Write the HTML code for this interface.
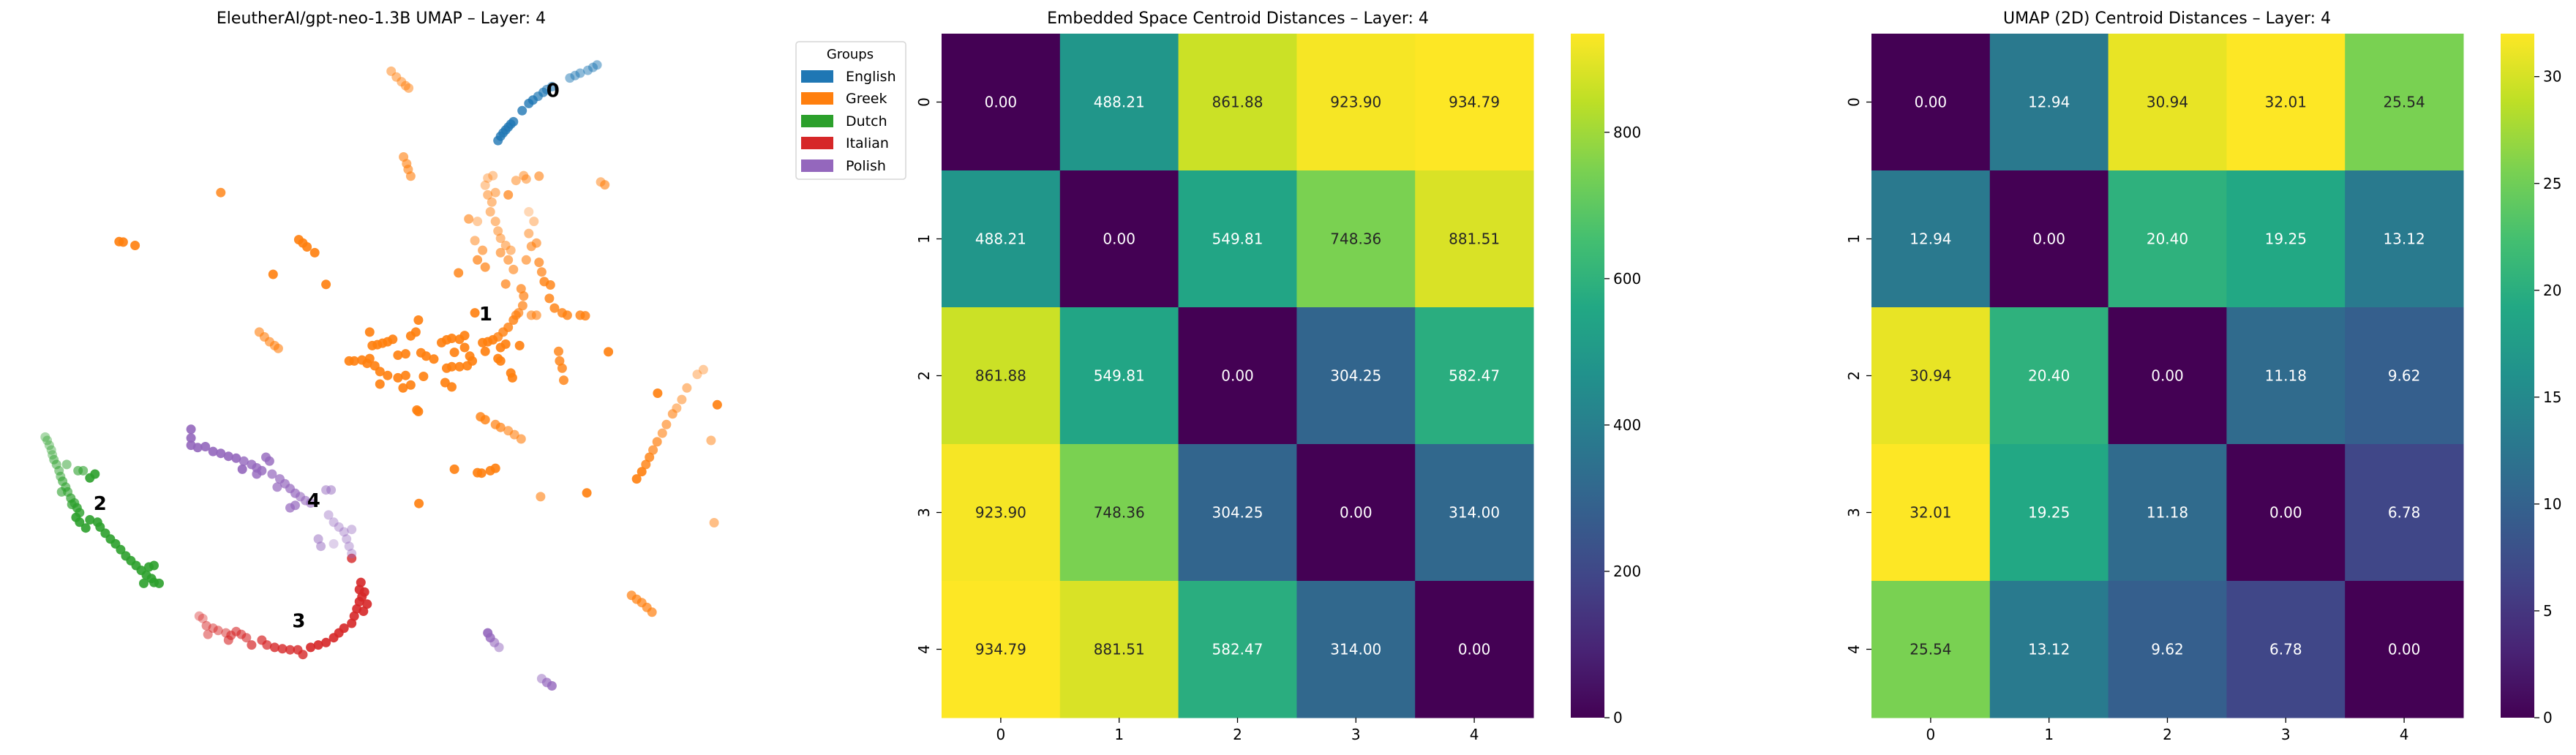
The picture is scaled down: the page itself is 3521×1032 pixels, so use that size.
<!DOCTYPE html>
<html><head><meta charset="utf-8"><style>
html,body{margin:0;padding:0;background:#fff;}
svg{display:block;font-family:"DejaVu Sans","Liberation Sans",sans-serif;}
</style></head><body>
<svg id="fig" width="3521" height="1032" viewBox="0 0 3521 1032" xmlns="http://www.w3.org/2000/svg">
<rect width="3521" height="1032" fill="#fff"/>
<g id="scatter">
<text x="521" y="32" font-size="22" text-anchor="middle">EleutherAI/gpt-neo-1.3B UMAP – Layer: 4</text>
</g>
<g id="legend">
<rect x="1088" y="57" width="150" height="188" rx="4" fill="#fff" stroke="#d6d6d6" stroke-width="1.5"/>
<text x="1162" y="80" font-size="18" text-anchor="middle">Groups</text>
<rect x="1095" y="96" width="44" height="17" fill="#1f77b4"/>
<text x="1156" y="111" font-size="19">English</text>
<rect x="1095" y="126" width="44" height="17" fill="#ff7f0e"/>
<text x="1156" y="141" font-size="19">Greek</text>
<rect x="1095" y="157" width="44" height="17" fill="#2ca02c"/>
<text x="1156" y="172" font-size="19">Dutch</text>
<rect x="1095" y="187" width="44" height="17" fill="#d62728"/>
<text x="1156" y="202" font-size="19">Italian</text>
<rect x="1095" y="218" width="44" height="17" fill="#9467bd"/>
<text x="1156" y="233" font-size="19">Polish</text>
</g>
<g id="hm1">
<text x="1692" y="32" font-size="22" text-anchor="middle">Embedded Space Centroid Distances – Layer: 4</text>
</g>
<g id="hm2">
<text x="2962" y="32" font-size="22" text-anchor="middle">UMAP (2D) Centroid Distances – Layer: 4</text>
</g>
</svg>
<script>
// ---------- data ----------
const groupNames = ["English","Greek","Dutch","Italian","Polish"];
const groupColors = ["#1f77b4","#ff7f0e","#2ca02c","#d62728","#9467bd"];
// UMAP coordinates (arbitrary units), [x, y, alpha]
const englishPts = [[970,292,.8],[975,283,.8],[980,276,.8],[985,270,.8],[990,264,.8],[995,258,.8],[1000,253,.8],[1017,230,.8],[1030,215,.8],[1038,208,.8],[1048,200,.7],[1058,192,.7],[1065,186,.6],[1075,180,.6],[1110,162,.5],[1120,157,.5],[1130,152,.5],[1145,146,.5],[1155,140,.5],[1163,135,.5]];
const greekPts = [[762,148,.5],[772,160,.5],[782,170,.5],[790,178,.5],[796,183,.5],[786,326,.6],[792,340,.6],[795,352,.6],[800,366,.6],[430,400,.8],[232,502,.9],[240,503,.9],[263,510,.9],[582,498,.9],[590,505,.9],[598,513,.9],[613,525,.9],[532,570,.9],[635,591,.9],[505,690,.6],[515,700,.6],[525,710,.6],[535,718,.6],[542,724,.6],
[680,750,.9],[690,750,.9],[720,690,.9],[725,718,.9],[735,716,.9],[745,713,.9],[755,710,.9],[765,705,.9],[775,738,.9],[790,735,.9],[800,698,.9],[810,690,.9],[815,665,.9],[820,733,.9],[830,740,.9],[845,746,.9],[860,712,.9],[870,706,.9],[880,703,.9],[895,705,.9],[905,697,.9],[905,722,.9],[915,740,.9],[885,732,.9],[870,765,.9],[880,762,.9],[895,762,.9],[910,760,.9],[920,750,.9],[940,712,.9],[950,710,.9],[960,706,.9],[970,700,.8],[980,690,.8],[990,680,.8],[1000,665,.8],[945,730,.9],[970,745,.9],[975,722,.9],[985,715,.9],[720,745,.9],[730,760,.9],[740,772,.9],[755,780,.9],[775,785,.9],[790,780,.9],[800,800,.9],[785,806,.9],[825,782,.9],[740,798,.9],[715,755,.9],[705,748,.9],[867,795,.9],[880,804,.9],[1012,718,.9],
[950,370,.4],[960,365,.4],[945,385,.4],[950,405,.5],[990,405,.7],[955,440,.5],[965,460,.5],[970,480,.5],[975,495,.5],[985,510,.5],[995,520,.5],[990,540,.6],[1000,560,.6],[985,590,.7],[1015,600,.7],[1020,615,.7],[1018,635,.7],[1010,650,.7],[1005,655,.7],[925,500,.5],[940,520,.6],[930,540,.7],[945,555,.7],[975,525,.6],[893,567,.8],[913,455,.6],[930,460,.4],[1020,365,.5],[1050,366,.6],[1025,372,.5],[1030,440,.3],[1040,460,.4],[1030,485,.5],[1045,505,.6],[1035,512,.6],[1050,545,.7],[1055,565,.7],[1060,585,.8],[1072,592,.8],[1070,620,.8],[1080,640,.8],[1095,650,.8],[1105,655,.8],[1130,655,.8],[1140,656,.8],[1035,655,.6],[1045,655,.6],[1025,540,.6],[1005,375,.5],[965,400,.5],[958,420,.5],[925,650,.9],
[1170,378,.5],[1178,384,.6],[1088,730,.8],[1090,750,.8],[1095,765,.8],[1098,790,.8],[1185,731,.9],[975,750,.9],[995,775,.9],[998,785,.9],[812,852,.9],[815,855,.9],
[936,866,.8],[945,872,.8],[965,882,.7],[975,888,.7],[990,895,.6],[1002,903,.6],[1015,912,.6],[885,975,.9],[930,982,.9],[938,983,.9],[955,978,.9],[965,973,.9],[816,1046,.9],[1053,1032,.6],[1143,1024,.9],[1391,1086,.5],
[1240,995,.9],[1250,980,.9],[1258,965,.8],[1265,950,.8],[1272,935,.7],[1280,918,.7],[1290,900,.6],[1298,882,.6],[1310,860,.6],[1318,848,.5],[1328,830,.5],[1338,806,.5],[1358,778,.4],[1370,768,.4],[1281,817,.9],[1397,841,.9],[1385,915,.5],
[1230,1237,.7],[1240,1245,.7],[1250,1252,.7],[1260,1262,.7],[1270,1272,.7]];
const dutchPts = [[88,908,.4],[92,915,.4],[96,925,.4],[100,935,.4],[102,945,.4],[105,955,.5],[110,965,.5],[115,978,.5],[118,990,.5],[122,1000,.6],[128,1012,.6],[132,1022,.6],[138,1035,.7],[145,1045,.7],[150,1055,.8],[155,1065,.8],[148,1075,.9],[155,1085,.9],[167,1097,.9],[175,1080,.9],[190,1085,.9],[195,1095,.9],[205,1108,.9],[215,1120,.9],[225,1130,.9],[235,1142,.9],[245,1155,.9],[255,1165,.9],[265,1175,.9],[275,1185,.9],[285,1195,.9],[295,1202,.9],[300,1210,.9],[310,1212,.9],[280,1212,.9],[290,1178,.9],[300,1175,.9],[152,978,.6],[162,978,.6],[185,985,.9],[175,993,.9],[130,965,.5],[120,1022,.6],[140,1048,.7]];
const italianPts = [[388,1280,.4],[395,1285,.4],[402,1300,.5],[405,1318,.5],[415,1305,.5],[425,1310,.5],[440,1315,.5],[450,1320,.6],[460,1312,.6],[470,1318,.6],[480,1325,.6],[490,1340,.7],[510,1330,.7],[520,1340,.7],[535,1345,.8],[550,1348,.8],[565,1350,.8],[580,1350,.8],[590,1360,.8],[605,1345,.9],[620,1340,.9],[635,1335,.9],[650,1325,.9],[660,1315,.9],[670,1305,.9],[685,1295,.9],[690,1280,.9],[695,1265,.9],[700,1250,.9],[705,1240,.9],[700,1225,.9],[703,1210,.9],[710,1230,.9],[715,1255,.9],[708,1270,.9],[685,1160,.8],[445,1330,.6]];
const polishPts = [[372,892,.9],[372,910,.9],[372,925,.9],[385,930,.9],[400,928,.9],[415,938,.9],[430,942,.9],[445,948,.9],[460,952,.9],[475,958,.8],[490,965,.8],[500,972,.8],[510,978,.8],[518,950,.8],[525,958,.8],[530,985,.7],[545,995,.7],[540,1012,.7],[555,1005,.7],[565,1015,.7],[575,1025,.7],[585,1032,.6],[595,1040,.6],[605,1045,.6],[635,1018,.5],[645,1018,.5],[565,1055,.7],[575,1050,.7],[640,1070,.4],[650,1085,.4],[660,1095,.4],[670,1105,.4],[685,1100,.4],[675,1120,.4],[680,1135,.4],[685,1150,.4],[620,1120,.5],[625,1135,.5],[650,1130,.3],[950,1315,.9],[955,1325,.8],[963,1335,.6],[972,1345,.5],[1055,1410,.5],[1065,1418,.7],[1075,1425,.8],[472,975,.9],[500,985,.8]];
const clusterLabels = ["0","1","2","3","4"];
const clusterLabelPos = [[1077,188],[946,652],[195,1046],[582,1290],[611,1040]];

const hmCategories = ["0","1","2","3","4"];
const embeddedDist = [
 [0.00,488.21,861.88,923.90,934.79],
 [488.21,0.00,549.81,748.36,881.51],
 [861.88,549.81,0.00,304.25,582.47],
 [923.90,748.36,304.25,0.00,314.00],
 [934.79,881.51,582.47,314.00,0.00]];
const umapDist = [
 [0.00,12.94,30.94,32.01,25.54],
 [12.94,0.00,20.40,19.25,13.12],
 [30.94,20.40,0.00,11.18,9.62],
 [32.01,19.25,11.18,0.00,6.78],
 [25.54,13.12,9.62,6.78,0.00]];
const embeddedTicks = [0,200,400,600,800];
const umapTicks = [0,5,10,15,20,25,30];

// ---------- helpers ----------
const NS="http://www.w3.org/2000/svg";
function mk(tag, attrs, parent){const e=document.createElementNS(NS,tag);for(const k in attrs)e.setAttribute(k,attrs[k]);parent.appendChild(e);return e;}
const vir=[[68,1,84],[72,36,117],[65,68,135],[53,95,141],[42,120,142],[33,145,140],[34,168,132],[68,191,112],[122,209,81],[189,223,38],[253,231,37]];
function viridis(t){t=Math.max(0,Math.min(1,t));const f=t*(vir.length-1);const i=Math.min(vir.length-2,Math.floor(f));const r=f-i;
 const c=vir[i].map((v,k)=>Math.round(v+(vir[i+1][k]-v)*r));return `rgb(${c[0]},${c[1]},${c[2]})`;}

// ---------- scatter ----------
const sx = v => v/1.425;
const sy = v => v/1.52;
const sg=document.getElementById('scatter');
const allGroups=[englishPts,greekPts,dutchPts,italianPts,polishPts];
allGroups.forEach((pts,gi)=>{
 const g=mk('g',{},sg);
 
 
 pts.forEach(p=>{
  const c=mk('circle',{cx:sx(p[0]).toFixed(1),cy:sy(p[1]).toFixed(1),r:6.5,fill:groupColors[gi],'fill-opacity':p[2]},g);
  
  
 });
});
clusterLabels.forEach((l,i)=>{
 const t=mk('text',{x:sx(clusterLabelPos[i][0]),y:sy(clusterLabelPos[i][1])+9,'font-size':26,'font-weight':'bold','text-anchor':'middle'},sg);
 t.textContent=l;
 
 
});

// ---------- heatmaps ----------
function heatmap(gid, data, ticks, x0, x1, cbx0, vmax, prefix){
 const g=document.getElementById(gid);
 const y0=46,y1=981,n=hmCategories.length;
 const cw=(x1-x0)/n, ch=(y1-y0)/n;
 const cx = i => x0+cw*i;
 const cy = i => y0+ch*i;
 data.forEach((row,r)=>row.forEach((v,c)=>{
  const rect=mk('rect',{x:cx(c),y:cy(r),width:cw+0.5,height:ch+0.5,fill:viridis(v/vmax)},g);
  
  
  const t=mk('text',{x:cx(c)+cw/2,y:cy(r)+ch/2+7,'font-size':20,'text-anchor':'middle',fill:(v/vmax>0.7)?'#262626':'#fff'},g);
  t.textContent=v.toFixed(2);
  
  
 }));
 hmCategories.forEach((c,i)=>{
  const xm=cx(i)+cw/2;
  mk('line',{x1:xm,y1:y1,x2:xm,y2:y1+7,stroke:'#000','stroke-width':1.3},g);
  const t=mk('text',{x:xm,y:y1+30,'font-size':20,'text-anchor':'middle'},g);
  t.textContent=c;
  
  
  const ym=cy(i)+ch/2;
  mk('line',{x1:x0-7,y1:ym,x2:x0,y2:ym,stroke:'#000','stroke-width':1.3},g);
  const ty=mk('text',{x:0,y:0,'font-size':20,'text-anchor':'middle',transform:`translate(${x0-17},${ym}) rotate(-90)`},g);
  ty.textContent=c;
  
  
 });
 const cbw=46, cby = v => y1-(y1-y0)*v/vmax;
 const defs=mk('defs',{},g);
 const lg=mk('linearGradient',{id:prefix+'grad',x1:0,y1:1,x2:0,y2:0},defs);
 for(let k=0;k<=20;k++) mk('stop',{offset:k/20,'stop-color':viridis(k/20)},lg);
 const cb=mk('rect',{x:cbx0,y:y0,width:cbw,height:y1-y0,fill:`url(#${prefix}grad)`},g);
 
 
 ticks.forEach(v=>{
  const y=cby(v);
  mk('line',{x1:cbx0+cbw,y1:y,x2:cbx0+cbw+7,y2:y,stroke:'#000','stroke-width':1.3},g);
  const t=mk('text',{x:cbx0+cbw+12,y:y+7,'font-size':20},g);
  t.textContent=String(v);
  
  
 });
}
heatmap('hm1',embeddedDist,embeddedTicks,1287,2096,2147,934.79,'embedded');
heatmap('hm2',umapDist,umapTicks,2558,3367,3418,32.01,'umap');
</script>
</body></html>
